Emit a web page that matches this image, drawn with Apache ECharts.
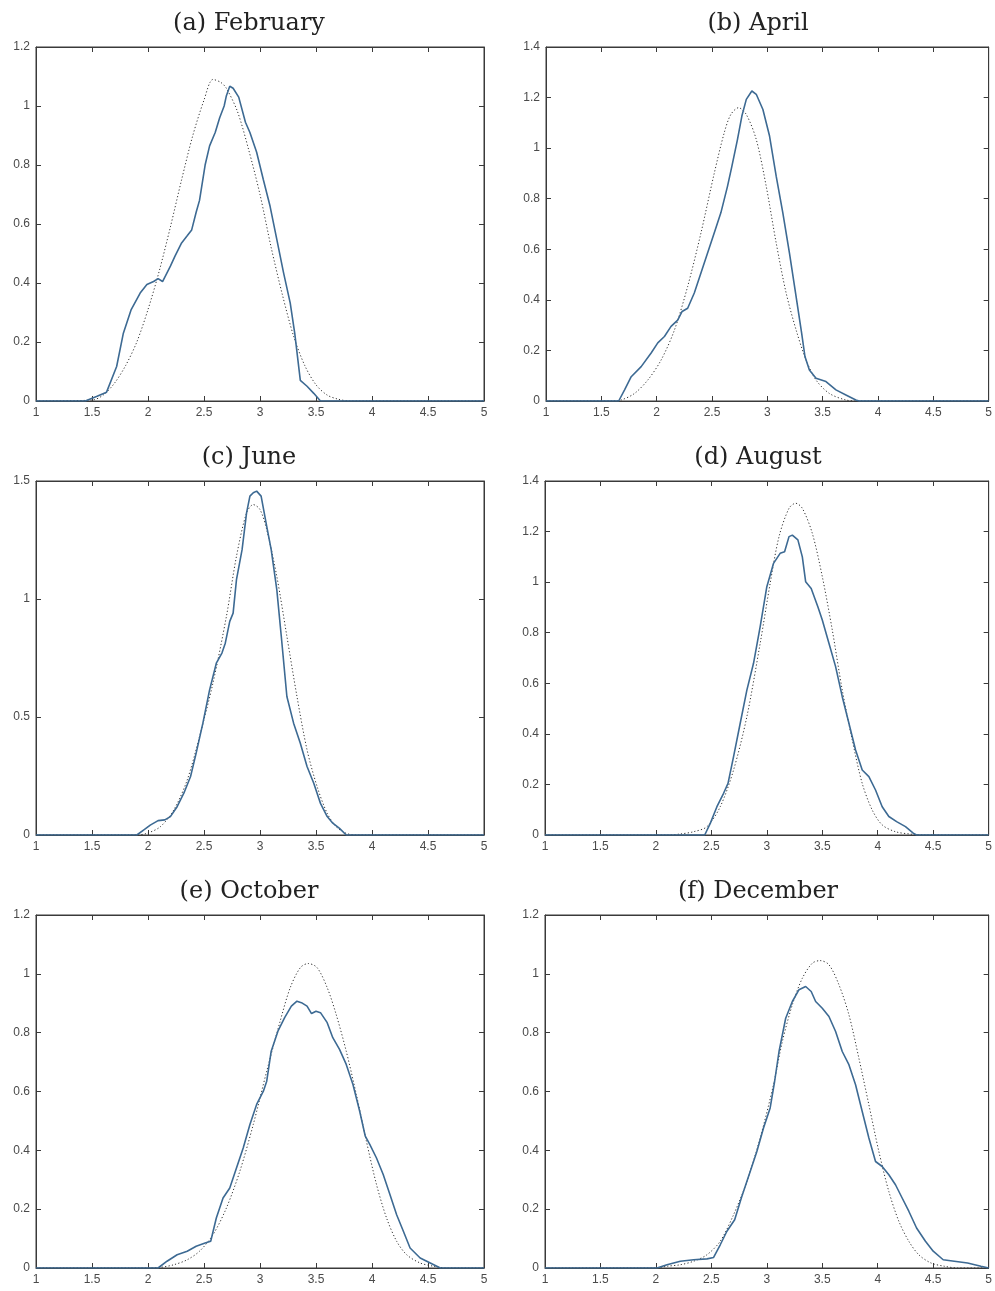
<!DOCTYPE html>
<html>
<head>
<meta charset="utf-8">
<script src="https://cdn.jsdelivr.net/npm/echarts@6/dist/echarts.min.js"></script>
<style>
html,body{margin:0;padding:0;background:#fff;}
#chart{width:995px;height:1291px;}
</style>
</head>
<body>
<div id="chart"></div>
<script>
// Panel titles
const titles = ['(a) February', '(b) April', '(c) June', '(d) August', '(e) October', '(f) December'];
// Y axis maxima and intervals
const yMax = [1.2, 1.4, 1.5, 1.4, 1.2, 1.2];
const yStep = [0.2, 0.2, 0.5, 0.2, 0.2, 0.2];
// X axis tick labels range
const xMin = 1, xMax = 5, xStep = 0.5;

// (a) February
const febX = [1, 1.44, 1.54, 1.63, 1.72, 1.78, 1.85, 1.93, 1.99, 2.05, 2.09, 2.13, 2.2, 2.24, 2.3, 2.35, 2.39, 2.43, 2.46, 2.51, 2.55, 2.6, 2.64, 2.68, 2.7, 2.73, 2.76, 2.81, 2.87, 2.91, 2.97, 3.03, 3.09, 3.15, 3.21, 3.27, 3.31, 3.36, 3.42, 3.48, 3.54, 5];
const febY = [0, 0, 0.015, 0.03, 0.117, 0.23, 0.31, 0.366, 0.395, 0.405, 0.415, 0.405, 0.457, 0.49, 0.536, 0.56, 0.58, 0.64, 0.68, 0.8, 0.865, 0.91, 0.96, 1.0, 1.035, 1.067, 1.06, 1.03, 0.945, 0.91, 0.843, 0.75, 0.66, 0.548, 0.435, 0.332, 0.23, 0.07, 0.05, 0.026, 0, 0];
const febFitX = [1, 1.5, 1.6, 1.7, 1.8, 1.9, 2.0, 2.1, 2.2, 2.3, 2.4, 2.5, 2.58, 2.65, 2.7, 2.8, 2.9, 3.0, 3.1, 3.2, 3.3, 3.4, 3.5, 3.6, 3.7, 3.8, 5];
const febFitY = [0, 0.003, 0.02, 0.06, 0.12, 0.2, 0.31, 0.44, 0.59, 0.75, 0.9, 1.02, 1.09, 1.08, 1.06, 0.98, 0.85, 0.7, 0.52, 0.36, 0.22, 0.12, 0.055, 0.02, 0.006, 0, 0];

// (b) April
const aprX = [1, 1.657, 1.71, 1.77, 1.86, 1.95, 2.01, 2.07, 2.13, 2.19, 2.23, 2.28, 2.34, 2.4, 2.46, 2.52, 2.58, 2.64, 2.68, 2.73, 2.77, 2.81, 2.86, 2.9, 2.96, 3.02, 3.08, 3.14, 3.2, 3.26, 3.31, 3.34, 3.38, 3.44, 3.53, 3.62, 3.71, 3.8, 3.83, 5];
const aprY = [0, 0, 0.044, 0.096, 0.136, 0.19, 0.23, 0.255, 0.295, 0.32, 0.354, 0.367, 0.427, 0.506, 0.585, 0.664, 0.744, 0.849, 0.929, 1.034, 1.127, 1.193, 1.226, 1.213, 1.153, 1.048, 0.889, 0.744, 0.585, 0.413, 0.268, 0.176, 0.123, 0.09, 0.077, 0.044, 0.024, 0.004, 0, 0];
const aprFitX = [1, 1.6, 1.68, 1.8, 1.92, 2.04, 2.16, 2.28, 2.4, 2.52, 2.61, 2.67, 2.74, 2.81, 2.9, 2.99, 3.08, 3.17, 3.26, 3.35, 3.44, 3.56, 3.71, 3.83, 5];
const aprFitY = [0, 0, 0.004, 0.03, 0.083, 0.162, 0.28, 0.453, 0.664, 0.9, 1.06, 1.133, 1.16, 1.133, 1.034, 0.849, 0.625, 0.427, 0.281, 0.162, 0.083, 0.03, 0.004, 0, 0];

// (c) June
const junX = [1, 1.9, 1.96, 2.02, 2.09, 2.15, 2.2, 2.26, 2.32, 2.38, 2.43, 2.49, 2.55, 2.61, 2.66, 2.69, 2.73, 2.76, 2.79, 2.84, 2.88, 2.91, 2.94, 2.97, 3.01, 3.06, 3.1, 3.15, 3.19, 3.24, 3.3, 3.36, 3.42, 3.48, 3.54, 3.6, 3.65, 3.71, 3.77, 5];
const junY = [0, 0, 0.021, 0.042, 0.061, 0.064, 0.078, 0.12, 0.177, 0.248, 0.347, 0.474, 0.615, 0.728, 0.771, 0.813, 0.905, 0.94, 1.082, 1.209, 1.365, 1.436, 1.45, 1.457, 1.436, 1.308, 1.209, 1.04, 0.842, 0.587, 0.474, 0.389, 0.29, 0.219, 0.134, 0.078, 0.05, 0.028, 0, 0];
const junFitX = [1, 1.9, 1.99, 2.11, 2.23, 2.35, 2.46, 2.58, 2.7, 2.79, 2.88, 2.94, 3.0, 3.06, 3.15, 3.24, 3.33, 3.42, 3.51, 3.6, 3.68, 3.77, 3.86, 5];
const junFitY = [0, 0, 0.007, 0.035, 0.106, 0.233, 0.417, 0.644, 0.926, 1.181, 1.365, 1.4, 1.379, 1.294, 1.096, 0.842, 0.587, 0.361, 0.205, 0.092, 0.035, 0.007, 0, 0];

// (d) August
const augX = [1, 2.44, 2.49, 2.55, 2.61, 2.65, 2.7, 2.76, 2.82, 2.88, 2.94, 3.0, 3.06, 3.12, 3.16, 3.2, 3.23, 3.28, 3.32, 3.35, 3.4, 3.46, 3.5, 3.56, 3.62, 3.68, 3.74, 3.8, 3.86, 3.92, 3.98, 4.04, 4.1, 4.17, 4.25, 4.32, 4.35, 5];
const augY = [0, 0, 0.046, 0.112, 0.165, 0.204, 0.31, 0.442, 0.573, 0.679, 0.824, 0.982, 1.074, 1.114, 1.12, 1.18, 1.186, 1.167, 1.1, 1.002, 0.975, 0.903, 0.85, 0.758, 0.666, 0.547, 0.442, 0.336, 0.257, 0.231, 0.178, 0.112, 0.073, 0.053, 0.033, 0.007, 0, 0];
const augFitX = [1, 2.1, 2.22, 2.34, 2.46, 2.58, 2.7, 2.82, 2.94, 3.03, 3.11, 3.2, 3.26, 3.32, 3.41, 3.5, 3.59, 3.68, 3.77, 3.86, 3.95, 4.04, 4.16, 4.31, 4.42, 5];
const augFitY = [0, 0, 0.004, 0.013, 0.033, 0.112, 0.257, 0.468, 0.758, 0.995, 1.18, 1.292, 1.312, 1.292, 1.193, 1.022, 0.811, 0.573, 0.376, 0.204, 0.099, 0.04, 0.013, 0.003, 0, 0];

// (e) October
const octX = [1, 2.09, 2.17, 2.26, 2.35, 2.43, 2.51, 2.56, 2.61, 2.67, 2.73, 2.79, 2.85, 2.91, 2.97, 3.03, 3.06, 3.1, 3.16, 3.22, 3.28, 3.33, 3.37, 3.42, 3.46, 3.5, 3.54, 3.6, 3.65, 3.71, 3.77, 3.83, 3.89, 3.94, 3.98, 4.04, 4.1, 4.16, 4.22, 4.28, 4.34, 4.43, 4.52, 4.61, 5];
const octY = [0, 0, 0.023, 0.045, 0.057, 0.074, 0.085, 0.091, 0.17, 0.238, 0.272, 0.34, 0.408, 0.488, 0.556, 0.601, 0.635, 0.737, 0.805, 0.851, 0.89, 0.907, 0.902, 0.89, 0.865, 0.873, 0.868, 0.834, 0.783, 0.743, 0.692, 0.624, 0.533, 0.448, 0.42, 0.374, 0.318, 0.25, 0.181, 0.125, 0.068, 0.034, 0.017, 0, 0];
const octFitX = [1, 2.0, 2.11, 2.23, 2.35, 2.46, 2.58, 2.7, 2.82, 2.94, 3.06, 3.18, 3.27, 3.36, 3.43, 3.51, 3.6, 3.68, 3.77, 3.86, 3.95, 4.04, 4.13, 4.22, 4.31, 4.43, 4.55, 4.67, 5];
const octFitY = [0, 0, 0.002, 0.011, 0.028, 0.057, 0.113, 0.204, 0.329, 0.488, 0.669, 0.839, 0.953, 1.021, 1.035, 1.021, 0.953, 0.862, 0.737, 0.59, 0.431, 0.284, 0.17, 0.091, 0.045, 0.017, 0.006, 0, 0];

// (f) December
const decX = [1, 2.01, 2.1, 2.22, 2.34, 2.46, 2.52, 2.58, 2.64, 2.71, 2.77, 2.85, 2.91, 2.97, 3.03, 3.07, 3.11, 3.17, 3.23, 3.29, 3.35, 3.4, 3.44, 3.5, 3.56, 3.62, 3.68, 3.74, 3.8, 3.86, 3.92, 3.98, 4.04, 4.1, 4.16, 4.22, 4.28, 4.35, 4.43, 4.5, 4.59, 4.69, 4.81, 4.93, 5];
const decY = [0, 0, 0.011, 0.023, 0.028, 0.031, 0.036, 0.079, 0.125, 0.164, 0.238, 0.328, 0.396, 0.476, 0.544, 0.634, 0.736, 0.849, 0.906, 0.946, 0.957, 0.94, 0.906, 0.883, 0.855, 0.804, 0.736, 0.691, 0.623, 0.532, 0.442, 0.362, 0.345, 0.317, 0.283, 0.238, 0.193, 0.136, 0.091, 0.057, 0.028, 0.023, 0.017, 0.006, 0];
const decFitX = [1, 2.0, 2.1, 2.22, 2.34, 2.46, 2.58, 2.7, 2.82, 2.94, 3.06, 3.14, 3.23, 3.32, 3.41, 3.48, 3.56, 3.65, 3.74, 3.83, 3.92, 4.01, 4.1, 4.19, 4.28, 4.37, 4.48, 4.6, 4.72, 5];
const decFitY = [0, 0, 0.006, 0.011, 0.023, 0.045, 0.091, 0.181, 0.294, 0.442, 0.623, 0.77, 0.895, 0.985, 1.036, 1.045, 1.031, 0.963, 0.861, 0.713, 0.555, 0.396, 0.26, 0.159, 0.091, 0.045, 0.017, 0.006, 0, 0];

const empX = [febX, aprX, junX, augX, octX, decX];
const empY = [febY, aprY, junY, augY, octY, decY];
const fitX = [febFitX, aprFitX, junFitX, augFitX, octFitX, decFitX];
const fitY = [febFitY, aprFitY, junFitY, augFitY, octFitY, decFitY];

// layout
const grids = [
  {left: 36, top: 47, width: 448, height: 354},
  {left: 546, top: 47, width: 446, height: 354},
  {left: 36, top: 481, width: 448, height: 354},
  {left: 545, top: 481, width: 447, height: 354},
  {left: 36, top: 915, width: 448, height: 353},
  {left: 545, top: 915, width: 447, height: 353}
];
const titlePos = [[249, 24], [758, 24], [249, 458], [758, 458], [249, 892], [758, 892]];

const axisColor = '#3a3a3a';
const labelColor = '#4a4a4a';
const pair = (xs, ys) => xs.map((x, i) => [x, ys[i]]);

const option = {
  animation: false,
  backgroundColor: '#ffffff',
  title: [], grid: [], xAxis: [], yAxis: [], series: []
};

for (let i = 0; i < 6; i++) {
  option.title.push({
    text: titles[i], left: titlePos[i][0], top: titlePos[i][1], padding: 0,
    textAlign: 'center', textVerticalAlign: 'middle',
    textStyle: {fontFamily: 'DejaVu Serif', fontSize: 24, fontWeight: 'normal', color: '#222'}
  });
  option.grid.push(Object.assign({show: true, borderColor: axisColor, borderWidth: 1, backgroundColor: 'transparent'}, grids[i]));
  const xCommon = {type: 'value', gridIndex: i, min: xMin, max: xMax, interval: xStep,
    splitLine: {show: false},
    axisLine: {show: true, onZero: false, lineStyle: {color: axisColor, width: 1}},
    axisTick: {show: true, inside: true, length: 5, lineStyle: {color: axisColor}}};
  option.xAxis.push(Object.assign({}, xCommon, {position: 'bottom',
    axisLabel: {show: true, margin: 6, color: labelColor, fontFamily: 'Liberation Sans', fontSize: 12}}));
  option.xAxis.push(Object.assign({}, xCommon, {position: 'top', axisLabel: {show: false}}));
  const yCommon = {type: 'value', gridIndex: i, min: 0, max: yMax[i], interval: yStep[i],
    splitLine: {show: false},
    axisLine: {show: true, onZero: false, lineStyle: {color: axisColor, width: 1}},
    axisTick: {show: true, inside: true, length: 5, lineStyle: {color: axisColor}}};
  option.yAxis.push(Object.assign({}, yCommon, {position: 'left',
    axisLabel: {show: true, margin: 6, color: labelColor, fontFamily: 'Liberation Sans', fontSize: 12}}));
  option.yAxis.push(Object.assign({}, yCommon, {position: 'right', axisLabel: {show: false}}));

  option.series.push({
    type: 'line', xAxisIndex: 2 * i, yAxisIndex: 2 * i, data: pair(fitX[i], fitY[i]),
    showSymbol: false, smooth: 0.3, silent: true, z: 3,
    lineStyle: {color: '#333333', width: 1, type: [1.2, 2.2]}
  });
  option.series.push({
    type: 'line', xAxisIndex: 2 * i, yAxisIndex: 2 * i, data: pair(empX[i], empY[i]),
    showSymbol: false, silent: true, z: 4,
    lineStyle: {color: '#3d6a93', width: 1.6}
  });
}

const chart = echarts.init(document.getElementById('chart'), null, {renderer: 'canvas'});
chart.setOption(option);
</script>
</body>
</html>
